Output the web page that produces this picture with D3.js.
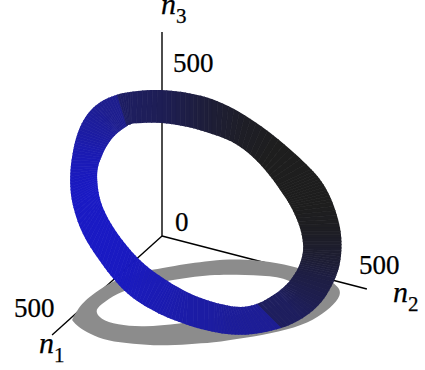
<!DOCTYPE html>
<html>
<head>
<meta charset="utf-8">
<script src="https://cdnjs.cloudflare.com/ajax/libs/d3/7.8.5/d3.min.js"></script>
<style>
	html, body { margin: 0; padding: 0; background: #fff; }
	text { font-family: "Liberation Serif", serif; fill: #000; stroke: #000; stroke-width: 0.25px; }
</style>
</head>
<body>
<div id="chart"></div>
<script>
var width = 425,
	height = 370;

// axis lengths and tick labels
var axisNames = ["1", "2", "3"];
var axisEnds = [604, 582, 586];
var tickLabels = ["0", "500"];

// ring edges, in plane units around the origin
var ringOuter = [[0,147],[28,143],[50,138],[83,122],[117,97],[150,67],[162,52],[171,34],[179,8],[180,-12],[178,-29],[174,-42],[161,-67],[141,-83],[120,-93],[90,-99],[70,-99],[50,-96],[28,-90],[5,-82],[-12,-73],[-29,-63],[-46,-47],[-63,-24],[-80,1],[-89,28],[-92,46],[-92,66],[-89,86],[-85,103],[-76,122],[-62,135],[-45,142],[-29,145]];
var ringInner = [[0,114],[28,109],[50,102],[76,93],[100,71],[115,51],[123,39],[130,28],[139,8],[142,-12],[140,-22],[136,-34],[124,-50],[116,-56],[96,-69],[78,-72],[63,-69],[50,-66],[28,-58],[16,-51],[5,-45],[-19,-28],[-34,-12],[-51,11],[-61,31],[-64,46],[-65,56],[-65,68],[-60,81],[-54,93],[-46,102],[-41,106],[-35,110],[-31,113]];
// 0 = blue, 1 = black
var ringShade = [.68,.78,.86,.95,1,1,1,1,.97,.9,.85,.78,.7,.62,.3,.28,.26,.22,.18,.14,.1,.05,.02,0,0,0,.02,.06,.12,.2,.27,.34,.58,.62];

// projection of the ring on the floor
var floorOuter = [[-90,-84],[-90,-84],[-85,-74],[-75,-62],[-49,-44],[-22,-36],[5,-31],[50,-24],[83,-23],[117,-27],[140,-33],[163,-41],[179,-52],[178,-62],[165,-75],[147,-87],[117,-96],[83,-102],[50,-107],[28,-108],[-2,-110],[-29,-108],[-55,-105],[-72,-98],[-84,-91]];
var floorInner = [[-67,-75],[-62,-69],[-45,-57],[-22,-49],[5,-45],[50,-38],[83,-39],[117,-40],[138,-49],[133,-64],[98,-76],[50,-82],[18,-88],[-19,-91],[-45,-89],[-62,-83]];

var x = d3.scaleLinear().domain([-162, 263]).range([0, width]);
var y = d3.scaleLinear().domain([236, -134]).range([0, height]);

// axes of the 3d box, all from the origin
var n1 = d3.scaleLinear().domain([0, 500]).range([[x(0), y(0)], [x(-91), y(-82)]]);
var n2 = d3.scaleLinear().domain([0, 500]).range([[x(0), y(0)], [x(176), y(-45.5)]]);
var n3 = d3.scaleLinear().domain([0, 500]).range([[x(0), y(0)], [x(0), y(174)]]);
var axes = [n1, n2, n3];

var color = d3.scaleLinear().domain([0, 0.35, 0.7, 1])
	.range(["#1a1ac4", "#1e1e8c", "#1e1e50", "#1e1e1e"]);

var svg = d3.select("#chart")
	.append("svg")
	.attr("width", width)
	.attr("height", height);

var loopPath = d3.line()
	.x(function(d) { return x(d[0]); })
	.y(function(d) { return y(d[1]); })
	.curve(d3.curveBasisClosed);

//axes
svg.append("g").selectAll("line")
	.data(axes)
	.enter()
	.append("line")
	.attr("x1", function(d) { return d(0)[0]; })
	.attr("y1", function(d) { return d(0)[1]; })
	.attr("x2", function(d, i) { return d(axisEnds[i])[0]; })
	.attr("y2", function(d, i) { return d(axisEnds[i])[1]; })
	.attr("stroke", "#000")
	.attr("stroke-width", 1.4);

//floor ring
svg.append("path")
	.attr("d", loopPath(floorOuter) + loopPath(floorInner))
	.attr("fill", "#8c8c8c")
	.attr("fill-rule", "evenodd");

//standing ring, thin shaded slices cut by the smooth outline
svg.append("clipPath")
	.attr("id", "ringClip")
	.append("path")
	.attr("d", loopPath(ringOuter) + loopPath(ringInner))
	.attr("clip-rule", "evenodd");

var count = ringShade.length,
	steps = 6;

// a slice edge at t along segment i, pushed past both ring edges so it overfills the clip
function sliceEdge(i, t) {
	var j = (i + 1) % count,
		ox = ringOuter[i][0] + (ringOuter[j][0] - ringOuter[i][0]) * t,
		oy = ringOuter[i][1] + (ringOuter[j][1] - ringOuter[i][1]) * t,
		ix = ringInner[i][0] + (ringInner[j][0] - ringInner[i][0]) * t,
		iy = ringInner[i][1] + (ringInner[j][1] - ringInner[i][1]) * t;
	return [
		[x(ox + (ox - ix) * 0.15), y(oy + (oy - iy) * 0.15)],
		[x(ix + (ix - ox) * 0.15), y(iy + (iy - oy) * 0.15)]
	];
}

var slices = [];
ringShade.forEach(function(d, i) {
	var next = ringShade[(i + 1) % count];
	// big jumps are the hard facet edges, no fade there
	var end = Math.abs(next - d) > 0.15 ? d : next;
	d3.range(steps).forEach(function(s) {
		slices.push({
			shade: d + (end - d) * s / steps,
			a: sliceEdge(i, s / steps),
			b: sliceEdge(i, (s + 1) / steps)
		});
	});
});

svg.append("g")
	.attr("clip-path", "url(#ringClip)")
	.selectAll("polygon")
	.data(slices)
	.enter()
	.append("polygon")
	.attr("points", function(d) {
		return [d.a[0], d.b[0], d.b[1], d.a[1]].join(" ");
	})
	.attr("fill", function(d) { return color(d.shade); })
	.attr("stroke", function(d) { return color(d.shade); })
	.attr("stroke-width", 0.7);

//tick labels
var tickSpots = [
	{ label: tickLabels[0], px: n3(0).slice(), dx: 13, dy: -5 },
	{ label: tickLabels[1], px: n3(500).slice(), dx: 11, dy: 10 },
	{ label: tickLabels[1], px: n1(500).slice(), dx: -57, dy: -1 },
	{ label: tickLabels[1], px: n2(500).slice(), dx: 21, dy: -8 }
];
svg.append("g").selectAll("text")
	.data(tickSpots)
	.enter()
	.append("text")
	.attr("x", function(d) { return d.px[0] + d.dx; })
	.attr("y", function(d) { return d.px[1] + d.dy; })
	.attr("font-size", 27)
	.text(function(d) { return d.label; });

//axis names
var nameSpots = [[39, 353], [393, 302], [161, 14]];
var names = svg.append("g").selectAll("text")
	.data(axisNames)
	.enter()
	.append("text")
	.attr("x", function(d, i) { return nameSpots[i][0]; })
	.attr("y", function(d, i) { return nameSpots[i][1]; });
names.append("tspan")
	.attr("font-style", "italic")
	.attr("font-size", 30)
	.text("n");
names.append("tspan")
	.attr("font-size", 21)
	.attr("dy", 9)
	.text(function(d) { return d; });
</script>
</body>
</html>
